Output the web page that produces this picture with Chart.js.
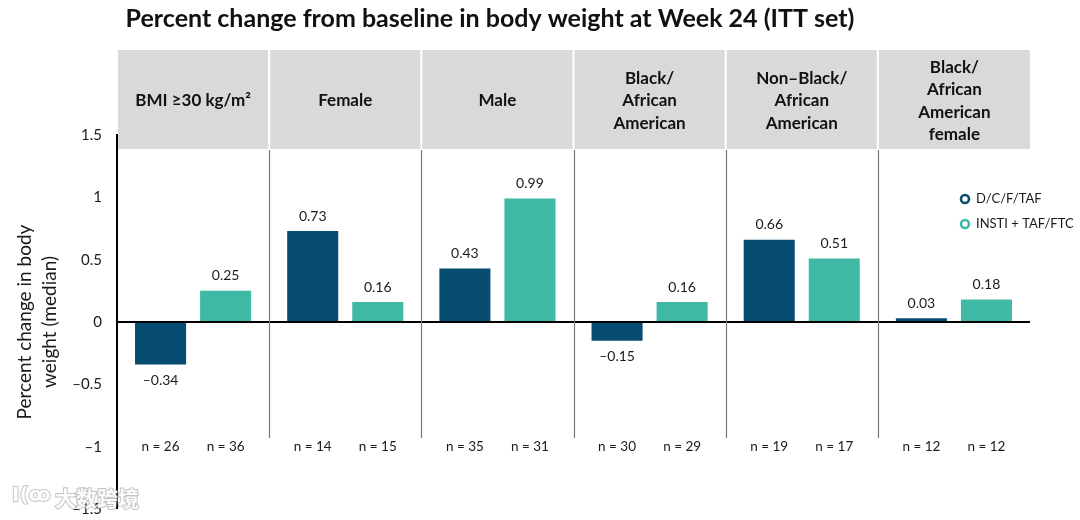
<!DOCTYPE html>
<html><head><meta charset="utf-8">
<script src="https://cdn.jsdelivr.net/npm/chart.js@4/dist/chart.umd.min.js"></script>
<style>html,body{margin:0;padding:0;background:#fff;overflow:hidden} #wrap{width:1080px;height:520px;position:relative}</style>
</head><body><div id="wrap"><canvas id="c"></canvas></div>
<script>
const TITLE = 'Percent change from baseline in body weight at Week 24 (ITT set)';
const categories = [['BMI ≥30 kg/m²'], ['Female'], ['Male'], ['Black/','African','American'], ['Non–Black/','African','American'], ['Black/','African','American','female']];
const seriesNames = ['D/C/F/TAF', 'INSTI + TAF/FTC'];
const dcftValues = [-0.34, 0.73, 0.43, -0.15, 0.66, 0.03];
const instiValues = [0.25, 0.16, 0.99, 0.16, 0.51, 0.18];
const dcftN = [26, 14, 35, 30, 19, 12];
const instiN = [36, 15, 31, 29, 17, 12];
const yMin = -1.5, yMax = 1.5, yStep = 0.5;
const yTitle = ['Percent change in body', 'weight (median)'];
const COLORS = ['#074d71', '#3fb9a6'];
const FONT = 'Lato, "Open Sans", sans-serif';

function fmt(v, d) {
  const s = d === undefined ? String(Math.abs(v)) : Math.abs(v).toFixed(d);
  return v < 0 ? '\u2013' + s : s;
}

const deco = {
  id: 'deco',
  beforeDatasetsDraw(chart) {
    const ctx = chart.ctx, xs = chart.scales.x, ca = chart.chartArea;
    const n = categories.length;
    const mid = i => (xs.getPixelForValue(i) + xs.getPixelForValue(i + 1)) / 2;
    ctx.save();
    for (let i = 0; i < n; i++) {
      const l = i === 0 ? ca.left + 1 : mid(i - 1) + 1;
      const r = i === n - 1 ? ca.right : mid(i) - 1;
      ctx.fillStyle = '#d9d9d9';
      ctx.fillRect(l, 50, r - l, 99);
      ctx.fillStyle = '#111';
      ctx.font = 'bold 17px ' + FONT;
      ctx.textAlign = 'center';
      ctx.textBaseline = 'middle';
      const lines = categories[i];
      const lh = 22.5;
      const y0 = 101 - (lines.length - 1) * lh / 2;
      lines.forEach((t, k) => ctx.fillText(t, (l + r) / 2, y0 + k * lh));
    }
    ctx.strokeStyle = '#7a7a7a';
    ctx.lineWidth = 1.2;
    for (let i = 0; i < n - 1; i++) {
      const x = Math.round(mid(i)) + 0.5;
      ctx.beginPath(); ctx.moveTo(x, 150); ctx.lineTo(x, 438); ctx.stroke();
    }
    ctx.restore();
  },
  afterDraw(chart) {
    const ctx = chart.ctx, ys = chart.scales.y, ca = chart.chartArea;
    ctx.save();
    ctx.fillStyle = '#111';
    ctx.font = 'bold 25px ' + FONT;
    ctx.textAlign = 'center';
    ctx.textBaseline = 'middle';
    ctx.fillText(TITLE, 490, 19);
    const nArr = [dcftN, instiN];
    const nY = ys.getPixelForValue(-1);
    chart.data.datasets.forEach((ds, di) => {
      const meta = chart.getDatasetMeta(di);
      meta.data.forEach((bar, i) => {
        const v = ds.data[i];
        ctx.fillStyle = '#1a1a1a';
        ctx.font = '14px ' + FONT;
        ctx.textAlign = 'center';
        ctx.textBaseline = 'middle';
        const y = v >= 0 ? Math.min(bar.y, bar.base) - 15 : Math.max(bar.y, bar.base) + 16;
        ctx.fillText(fmt(v, 2), bar.x, y);
        ctx.font = '13.5px ' + FONT;
        ctx.fillText('n = ' + nArr[di][i], bar.x, nY);
      });
    });
    chart.data.datasets.forEach((ds, di) => {
      const y = 199 + di * 25;
      ctx.beginPath();
      ctx.arc(965, y, 4, 0, Math.PI * 2);
      ctx.strokeStyle = ds.backgroundColor;
      ctx.lineWidth = 2.6;
      ctx.stroke();
      ctx.fillStyle = '#1a1a1a';
      ctx.font = '13px ' + FONT;
      ctx.textAlign = 'left';
      ctx.textBaseline = 'middle';
      ctx.fillText(ds.label, 976, y);
    });
    ctx.save();
    ctx.translate(37, (ca.top + ca.bottom) / 2);
    ctx.rotate(-Math.PI / 2);
    ctx.fillStyle = '#1a1a1a';
    ctx.font = '19px ' + FONT;
    ctx.textAlign = 'center';
    ctx.textBaseline = 'middle';
    ctx.fillText(yTitle[0], 0, -12);
    ctx.fillText(yTitle[1], 0, 13);
    ctx.restore();
    ctx.font = 'bold 21px "Noto Sans CJK SC", sans-serif';
    ctx.textAlign = 'left';
    ctx.textBaseline = 'middle';
    ctx.lineWidth = 2;
    ctx.strokeStyle = 'rgba(150,150,150,0.55)';
    ctx.strokeText('大数跨境', 55, 498);
    ctx.fillStyle = 'rgba(255,255,255,0.92)';
    ctx.fillText('大数跨境', 55, 498);
    ctx.font = 'bold 20px "DejaVu Sans", sans-serif';
    ctx.strokeText('I(ꝏ', 12, 496);
    ctx.fillText('I(ꝏ', 12, 496);
    ctx.restore();
  }
};

new Chart(document.getElementById('c'), {
  type: 'bar',
  data: {
    labels: categories.map(c => c.join(' ')),
    datasets: [
      { label: seriesNames[0], data: dcftValues, backgroundColor: COLORS[0] },
      { label: seriesNames[1], data: instiValues, backgroundColor: COLORS[1] }
    ]
  },
  options: {
    responsive: true,
    maintainAspectRatio: false,
    animation: false,
    devicePixelRatio: 1,
    categoryPercentage: 0.855,
    barPercentage: 0.785,
    layout: { padding: { top: 135, bottom: 11, left: 0, right: 50 } },
    plugins: { legend: { display: false }, tooltip: { enabled: false }, title: { display: false } },
    scales: {
      x: { display: false, offset: true },
      y: {
        min: yMin, max: yMax,
        afterFit: s => { s.width = 117; },
        border: { display: true, color: '#000', width: 2 },
        grid: {
          drawTicks: true,
          tickLength: 15,
          tickColor: 'rgba(0,0,0,0)',
          color: c => (c.tick && c.tick.value === 0) ? '#000' : 'rgba(0,0,0,0)',
          lineWidth: c => (c.tick && c.tick.value === 0) ? 2 : 0
        },
        ticks: {
          stepSize: yStep,
          padding: 0,
          color: '#1a1a1a',
          font: { family: FONT, size: 15 },
          callback: v => fmt(v)
        }
      }
    }
  },
  plugins: [deco]
});
</script></body></html>
